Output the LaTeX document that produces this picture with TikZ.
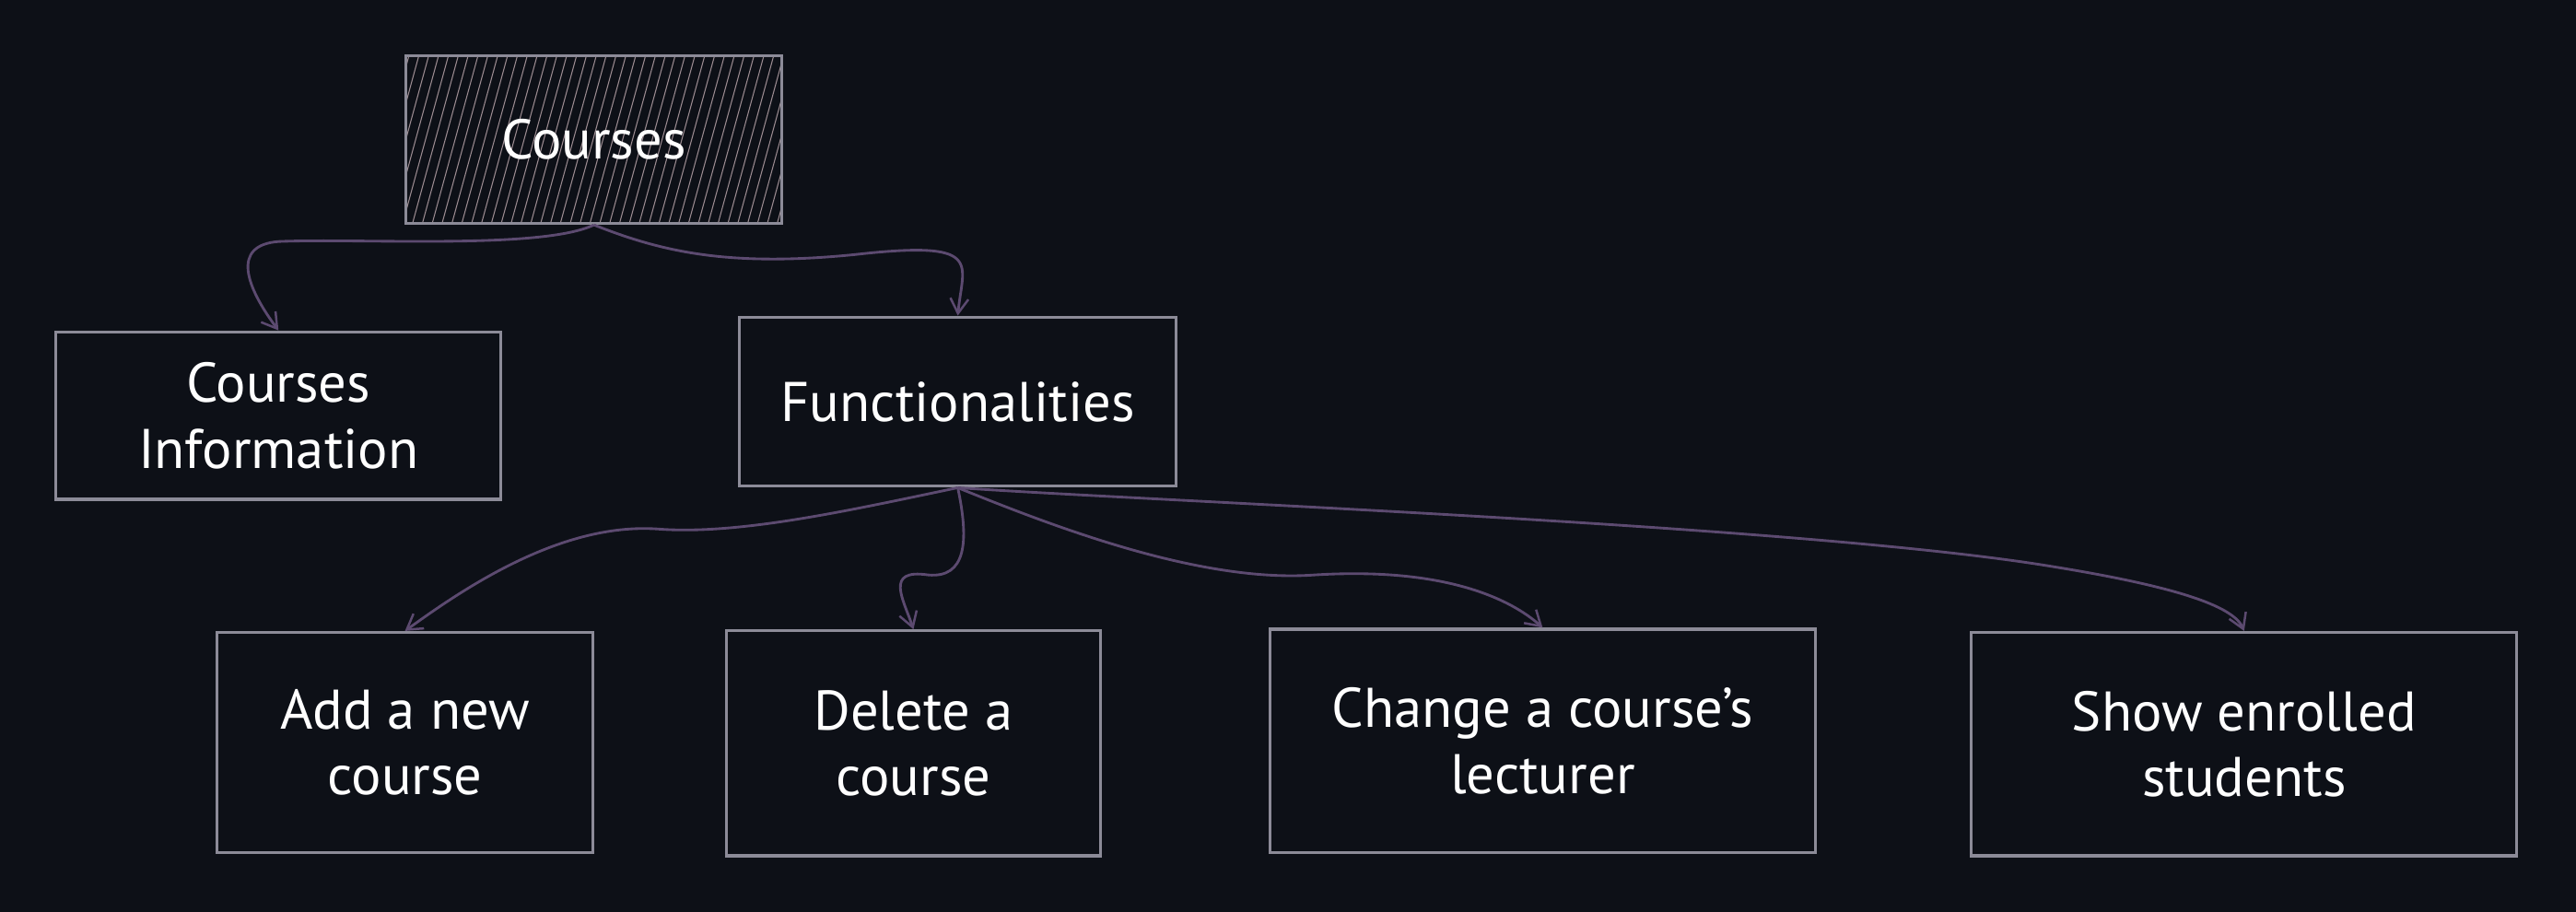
\documentclass[tikz,border=0pt]{standalone}
\usepackage{fontspec}
\setmainfont{PT Sans}
\usetikzlibrary{arrows.meta}
\definecolor{bg}{HTML}{0D1017}
\definecolor{boxline}{HTML}{8C8B98}
\definecolor{arrowc}{HTML}{5C4A70}
\definecolor{hatchc}{HTML}{9A8A90}
\tikzset{
  box/.style={draw=boxline, line width=1.8pt, fill=bg, text=white, align=center,
    font=\fontsize{34}{40}\selectfont, inner sep=0pt},
  conn/.style={draw=arrowc, line width=1.6pt, -{Straight Barb[length=9pt,width=11pt,line width=1.4pt]}}
}
\begin{document}
\begin{tikzpicture}[x=1pt,y=-1pt]
\fill[bg] (0,0) rectangle (1568,555);
\useasboundingbox (0,0) rectangle (1568,555);

% Courses (hatched)
\node[box, minimum width=229pt, minimum height=102pt] (courses) at (361.5,85) {};
\begin{scope}
  \clip (247,34) rectangle (476,136);
  \foreach \i in {0,6,...,270} {
    \draw[hatchc, line width=0.6pt] (220+\i,140) -- (250+\i,30);
  }
\end{scope}
\draw[boxline, line width=1.8pt] (247,34) rectangle (476,136);
\node[text=white, font=\fontsize{34}{40}\selectfont] (coursestext) at (courses.center) {Courses};

\node[box, minimum width=271pt, minimum height=102pt] (ci) at (169.5,253) {Courses\\Information};
\node[box, minimum width=266pt, minimum height=103pt] (func) at (583,244.5) {Functionalities};
\node[box, minimum width=229pt, minimum height=134pt] (add) at (246.5,452) {Add a new\\course};
\node[box, minimum width=228pt, minimum height=137pt] (del) at (556,452.5) {Delete a\\course};
\node[box, minimum width=332pt, minimum height=136pt] (change) at (939,451) {Change a course’s\\lecturer};
\node[box, minimum width=332pt, minimum height=136pt] (show) at (1366,453) {Show enrolled\\students};

% connectors
\draw[conn] (courses.south) .. controls (330,152) and (220,145) .. (170,147)
  .. controls (140,149) and (150,175) .. (ci.north);
\draw[conn] (courses.south) .. controls (400,152) and (440,163) .. (520,155)
  .. controls (600,146) and (586,160) .. (func.north);
\draw[conn] (func.south) .. controls (520,310) and (450,326) .. (400,322)
  .. controls (340,318) and (280,360) .. (add.north);
\draw[conn] (func.south) .. controls (590,330) and (588,352) .. (565,350)
  .. controls (538,346) and (550,365) .. (del.north);
\draw[conn] (func.south) .. controls (640,320) and (730,355) .. (800,350)
  .. controls (880,345) and (920,365) .. (change.north);
\draw[conn] (func.south) .. controls (700,305) and (1100,320) .. (1250,345)
  .. controls (1330,358) and (1360,370) .. (show.north);
\end{tikzpicture}
\end{document}
